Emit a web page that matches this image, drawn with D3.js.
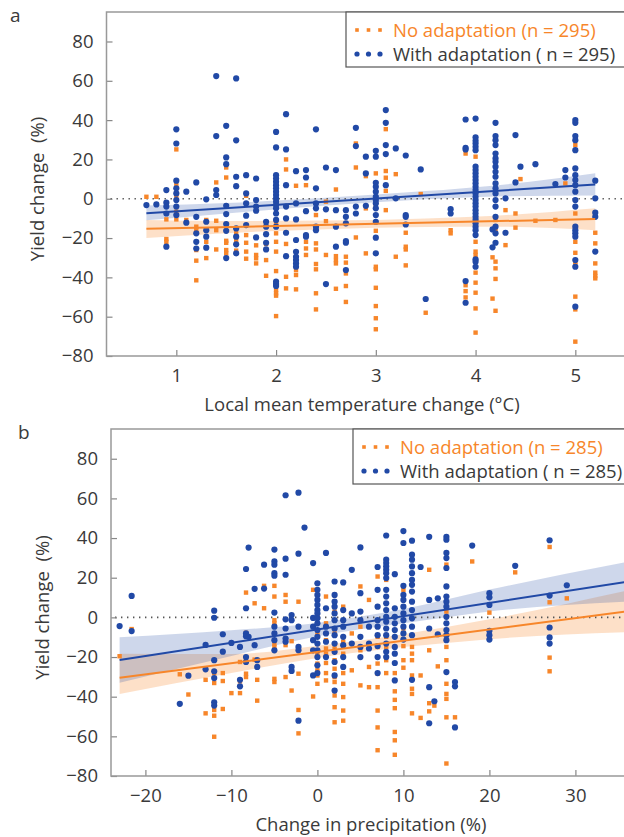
<!DOCTYPE html>
<html lang="en">
  <head>
    <meta charset="UTF-8" />
    <title>Yield change</title>
    <script src="https://d3js.org/d3.v7.min.js"></script>
    <style>
      body { margin: 0; background: #fff; }
      text { font-family: "Open Sans", "Noto Sans", sans-serif; fill: #3a3a3a; }
    </style>
  </head>
  <body>
    <div id="chart"></div>
    <script>
      // ---- panel a : local mean temperature change (°C) ----
      const tempX = [0.7, 0.8, 0.9, 1.0, 1.1, 1.2, 1.3, 1.4, 1.5, 1.6, 1.7, 1.8, 1.9, 2.0, 2.1, 2.2, 2.3, 2.4, 2.5, 2.6, 2.7, 2.8, 2.9, 3.0, 3.1, 3.2, 3.3, 3.45, 3.5, 3.75, 3.9, 4.0, 4.17, 4.2, 4.3, 4.4, 4.45, 4.6, 4.8, 4.9, 5.0, 5.2];
      const tempNoAdapt = [
        [1], [1], [-10.5, -20.5, -21.9], [25.1, 7, 1, -6.6, -10.5], [-10.8],
        [-14.2, -16, -26.1, -31.5, -41.5], [-10.8, -21.9, -30.2], [8.3, -11.2, -16, -25.8],
        [15.9, 10.8, -21.4, -22.4, -26.1, -27.8], [-17.6, -21, -26.4], [1.5, -18.5, -22.4, -26.9, -30.5],
        [-23.7, -28.6, -30.3, -32.9], [-23, -31.2, -39.2],
        [-12.5, -17.6, -21.9, -26.9, -36.8, -46.4, -48.1, -49.3, -59.7], [20, 14.9, -23, -39.7, -45.6],
        [6.6, -36.3, -38.8, -46.1], [6.9, -21.9, -25.3, -28.6], [-8.3, -22.7, -25.8, -33.2, -35.9, -48.1, -56.3],
        [-1.5, -11.4, -28.6], [4.7, -29.2, -31.2, -32.9, -45.8], [-29.5, -32.5, -38, -44.4, -52.5],
        [28.1, 15.9, -19.7], [11.5, -4.9, -27.8], [12.9, -4, -16.3, -34.6, -35.9, -45.3, -54.6, -60.8, -66.4],
        [35.4, 14.1, 10.7, 4, -5.8], [12.5, -29.5], [-17.3, -24.4, -25.8, -33.9], [2.4], [-58], [-16, -17.6],
        [23, -44, -47, -50.2], [21.4, -21.9, -26.9, -28.6, -31.2, -37.6, -42.7, -47.8, -55.8, -68.1],
        [-29.8, -50.8], [-10.8, -16, -32, -35.4, -40.8, -57], [-5.8, -23.6], [-7.5, -14.7], [10], [-11.2],
        [-10.8], [7.8], [27.3, 3.6, -7.5, -21.9, -27.5, -32, -33.7, -49.8, -56.3, -72.7],
        [-17.3, -22.7, -32.9, -37.6, -39.3, -40.5]
      ];
      const tempWithAdapt = [
        [-3.2], [-2.9], [4.4, -2, -4, -7.5, -24.4], [35.3, 28.1, 9.2, 5.3, 2.7, -0.7, -4, -8.3], [3.6, -12.2],
        [8.3, -9.2, -17.6, -21.9, -25.3], [-0.3, -11.7, -16, -19.3, -24.9], [62.4, 31.9, 4.4, 1.9],
        [37.1, 21, 17.6, -3.6, -7.8, -12.9, -16.3, -30.2], [61.2, 29.7, 11.2, 6.4, -15.1, -19.3, -23.2, -27.8],
        [12, 2.7, -2.4, -8.6, -13.4], [10.3, -0.7, -4, -6.1, -19.7], [-11.7, -14.2, -18, -22.4, -25.8],
        [34, 26.1, 12, 10.3, 8.6, 6.9, 5.3, 3.6, 1.9, 0.2, -1.5, -3.2, -4.9, -7.5, -10.8, -14.2, -42.2, -43.4, -44.4],
        [43, 25.1, 6.9, -4, -10, -17.3, -29.2], [14, -2.4, -10.5, -21, -27, -29.5, -31.2, -32.9, -34.6],
        [14.6, 10.8, -6.3, -18.5, -19.3], [35.3, 5.3, -2.4, -4.9, -14.2, -16], [15.9, -5.4, -43.4],
        [14.6, -5.8, -14.2, -24.4], [-5.8, -9.2, -12.5, -21.5, -22.4, -36.3], [36.1, 26.8, -4, -7.5],
        [21.4, 12.9, -3.6], [24.4, 21.4, 8.1, 6.1, 3.6, 1, -0.7, -2.4, -4.9, -8.3, -11.7, -19.8, -27.8],
        [45.1, 38.6, 27.3, 22.7, 6.9], [25.6, 0.2], [22, -8.3, -9.2, -13.1], [14.9], [-51], [-5.3, -7.5],
        [40.3, 25.9, 25.1, -41.9, -52.9],
        [40.8, 31.2, 29.5, 28.1, 26.4, 24.7, 16.3, 14.6, 12.9, 11.2, 9.5, 7.8, 6.1, 4.4, 2.7, 1, -0.7, -2.4, -4, -5.8, -7.5, -9.2, -10.8, -12.5, -14.2, -16, -18.5, -30.8, -32, -34.6],
        [-15.6, -24.7],
        [38.6, 31.9, 29.8, 27.3, 23, 20.5, 18.8, 16.3, 13.7, 11.2, 7.8, 5.3, 2.7, -0.7, -4, -9.2, -14.2, -17.6, -22.4],
        [0.2, -17.3], [32.4, 8.3], [16.3], [17.6], [7.5], [14.6, 10.8],
        [40, 38.6, 31.9, 29.8, 24.7, 15.4, 12, 9.5, 6.9, 3.6, -0.7, -4, -14.2, -16, -17.6, -19.3, -31.2, -34.6, -54.9],
        [9.2, 0.2, -7.1, -9.2, -26.9]
      ];
      const tempFitX = [0.7, 5.2];
      const tempFitNo = [-15.3, -10.3];
      const tempFitWith = [-7.4, 7.3];
      const tempBandX = [0.7, 1.5, 2.5, 3.5, 4.2, 5.2];
      const tempBandNoLo = [-20, -17.5, -15.5, -14.4, -14.2, -16];
      const tempBandNoHi = [-10.8, -11.3, -11.1, -10, -8.6, -4.8];
      const tempBandWithLo = [-11, -7.5, -3.5, -0.3, 1.2, 1.6];
      const tempBandWithHi = [-3.5, -2.2, 0.5, 3.9, 6.8, 13];
      const tempTicks = [1, 2, 3, 4, 5];

      // ---- panel b : change in precipitation (%) ----
      const precX = [-23, -21.6, -16, -15, -13, -12, -11, -10, -9, -8.3, -8, -7.3, -7, -6.2, -5, -3.7, -3, -2.2, -1.5, -0.5, 0, 1, 2, 3, 4, 5, 6, 7, 8, 9, 10, 11, 12, 13, 13.6, 14, 15, 16, 18, 20, 23, 27, 29];
      const precNoAdapt = [
        [-19.6], [-5.9], [-28.7], [-38.9], [-31.5, -48.4], [-28.1, -33.1, -46.7, -49.6, -60.2],
        [-28.1, -32.1, -46.2], [-38.2], [-22.5, -32.3, -38.2], [12.5, -7.8, -21.3, -28.4, -30.1], [],
        [7.1, -21.3], [-31.5, -42], [15.9, 4.6], [15.9, 10.5, -1.4, -3, -8.1, -13.2, -14.9, -31, -32.6],
        [11.3, 7.9, -14, -30.1], [-12, -36.9], [7.9, -28.4, -46.7, -58.5], [], [13.9, -39.9],
        [0.3, -8.1, -13.2, -18.3, -23.3, -26.7, -29.3, -33.5], [10.5, -3, -11.5, -15.7, -18.3, -23, -28.1, -31.8],
        [11.3, 2.9, -8.1, -15.7, -21.6, -25.9, -30.1, -32.6, -39.4, -45.3, -52.9],
        [5.4, -12.3, -18.3, -28.1, -33.5, -40.2, -47, -52.1], [-8.1, -26.7], [15.6, -4.7, -16.6, -34.3],
        [8.8, -25, -35.2], [20.6, -1.4, -9.8, -14.9, -23.3, -28.4, -35.2, -47, -55.5, -67],
        [18.9, -1.4, -9.8, -14.9, -21.6, -28.1], [-28.1, -37.3, -41.6, -45.8, -57.8, -62, -69.3],
        [13.9, -5.6, -14.5, -21.6, -25.4], [-14.9, -18.3, -21.6, -29.3, -36, -38.6, -48.4], [-29.3, -50.7],
        [24, -16.6, -43.3, -47.4], [-44.5], [-24.7], [26.6, 2.9, -14.9, -21.6, -33.5, -38.6, -41.1, -50.4, -73.7],
        [-50.4], [28.2], [2.4], [22.7], [35.5, 7.6, -20.3, -27.2], [9.6]
      ];
      const precWithAdapt = [
        [-4.4], [10.8, -6.9], [-43.6], [-29.4], [-13.9, -26.2], [3.4, -0.2, -21.6, -27.2, -30.6, -42.8, -44.5],
        [-8.5, -17.3], [-12.9], [-14.9, -31.5, -34.8], [24.4, 4.6, -8.1, -9.5, -20, -22.5], [35.2, -9.8],
        [14.4, -14], [-21.6, -25], [26.6, 14.5], [34.2, 28.2, 26.6, 22.3, 21, 2.4, -4.7, -8.1, -11.5, -16.6],
        [61.6, 29.6, 21.5, -1, -5.6, -10.7, -12.3], [1.2, -1.4, -25, -27], [62.9, 32.1, -4.7, -14.9, -16.6, -52.1],
        [45.3], [27.4, -0.3, -4.7, -11.5, -16.6, -29.3],
        [17.2, 13.9, 11.3, 8.8, 6.3, 3.7, 2, -0.5, -3, -6.4, -9.8, -13.2, -16.6, -20, -24.2, -28.1],
        [32.5, 4.6, -4.7, -8.1, -12.3, -20],
        [18.1, 11.3, 7.9, 5.4, 2, -1.4, -5.6, -9, -13.2, -17.4, -22.5, -29.3, -36.9],
        [17.6, 3.7, -1.4, -4.7, -9.8, -14, -20, -25], [24, 2, -13.2], [35.3, 12.2, 2.9, -1.4, -9.8, -14.9, -20],
        [-4.7, -13.2, -15.7], [25.4, 13.9, 5.4, -1.4, -4.7, -9, -14.5, -20, -28.1],
        [41.3, 29.1, 27.4, 25.7, 24, 22.3, 19.8, 13.9, 10.5, 7.1, 3.7, 0.3, -2.2, -5.6, -9, -13.2, -17.4, -20],
        [21.8, 4.6, 0.3, -3, -6.4, -9.8, -14.9, -18.3, -23, -31.8],
        [43.5, 37.5, 15.9, 11.3, 8.8, 5.4, 2, -1.4, -4.7, -8.1, -11.2],
        [38.7, 31.6, 29.1, 25.7, 22.3, 18.9, 16.4, 13, 7.9, 3.7, -0.5, -4.7, -9, -31.5], [25.4],
        [40.6, 8.8, -5.6, -35.2, -53.4], [-42.3], [9.6, -8.5],
        [40.6, 39.2, 32.5, 29.9, 24.9, 15.6, 10.5, 7.9, 5.4, 0.3, -3, -6.4, -9, -11.5, -27.6],
        [-32.6, -34.8, -55.5], [36.2], [12.2, 10.1, 6.3, -6.8, -9, -11.2], [26], [38.9, 11, -5.1, -10.1, -13.2], [16.2]
      ];
      const precFitX = [-23, 36];
      const precFitNo = [-30.5, 3];
      const precFitWith = [-21.5, 18];
      const precBandX = [-23, -10, 0, 5, 10, 20, 36];
      const precBandNoLo = [-38.6, -28, -20.5, -17.5, -15, -11, -7.5];
      const precBandNoHi = [-18.3, -18.5, -14.3, -11.7, -8.5, -1, 13.5];
      const precBandWithLo = [-33, -19.5, -9.5, -6, -3, 3, 8];
      const precBandWithHi = [-10, -6.5, -2.8, 0.4, 4.2, 14, 28];
      const precTicks = [-20, -10, 0, 10, 20, 30];

      const yTicks = [-80, -60, -40, -20, 0, 20, 40, 60, 80];
      const seriesNames = ["No adaptation", "With adaptation"];

      const orange = "#f7862a";
      const blue = "#2149a6";

      const width = 624;
      const height = 837;
      const svg = d3.select("#chart").append("svg")
        .attr("width", width)
        .attr("height", height);

      function drawPanel(opt) {
        const x = d3.scaleLinear().domain(opt.xDomain).range([opt.left, opt.right]);
        const y = d3.scaleLinear().domain([-80, 95]).range([opt.bottom, opt.top]);
        const g = svg.append("g");

        const clipId = "clip-" + opt.letter;
        g.append("clipPath").attr("id", clipId)
          .append("rect")
          .attr("x", opt.left).attr("y", opt.top)
          .attr("width", opt.right - opt.left).attr("height", opt.bottom - opt.top);
        const plot = g.append("g").attr("clip-path", `url(#${clipId})`);

        // confidence bands
        const bands = [
          { lo: opt.noLo, hi: opt.noHi, color: orange, op: 0.26 },
          { lo: opt.withLo, hi: opt.withHi, color: blue, op: 0.22 },
        ];
        bands.forEach((b) => {
          const area = d3.area()
            .x((d, i) => x(opt.bandX[i]))
            .y0((d, i) => y(b.lo[i]))
            .y1((d, i) => y(b.hi[i]))
            .curve(d3.curveMonotoneX);
          plot.append("path")
            .datum(opt.bandX)
            .attr("d", area)
            .attr("fill", b.color)
            .attr("fill-opacity", b.op);
        });

        // zero reference line
        plot.append("line")
          .attr("x1", opt.left + 4).attr("x2", opt.right)
          .attr("y1", y(0)).attr("y2", y(0))
          .attr("stroke", "#555")
          .attr("stroke-width", 1.6)
          .attr("stroke-dasharray", "1.4,4.6");

        // points: no adaptation (squares), with adaptation (circles)
        const noPts = [];
        opt.xs.forEach((xv, i) => opt.no[i].forEach((yv) => noPts.push([xv, yv])));
        const withPts = [];
        opt.xs.forEach((xv, i) => opt.with[i].forEach((yv) => withPts.push([xv, yv])));

        plot.append("g").selectAll("rect")
          .data(noPts)
          .join("rect")
          .attr("x", (d) => x(d[0]) - 2.2)
          .attr("y", (d) => y(d[1]) - 2.2)
          .attr("width", 4.4)
          .attr("height", 4.4)
          .attr("fill", orange);

        plot.append("g").selectAll("circle")
          .data(withPts)
          .join("circle")
          .attr("cx", (d) => x(d[0]))
          .attr("cy", (d) => y(d[1]))
          .attr("r", 3.1)
          .attr("fill", blue);

        // fitted lines
        const line = d3.line().x((d) => x(d[0])).y((d) => y(d[1]));
        plot.append("path")
          .datum(opt.fitX.map((v, i) => [v, opt.fitNo[i]]))
          .attr("d", line)
          .attr("stroke", orange).attr("stroke-width", 2).attr("fill", "none");
        plot.append("path")
          .datum(opt.fitX.map((v, i) => [v, opt.fitWith[i]]))
          .attr("d", line)
          .attr("stroke", blue).attr("stroke-width", 2).attr("fill", "none");

        // axes
        const yAxis = d3.axisLeft(y).tickValues(yTicks).tickSizeInner(-6).tickSizeOuter(0).tickPadding(13)
          .tickFormat((d) => (d < 0 ? "\u2212" + Math.abs(d) : d));
        const xAxis = d3.axisBottom(x).tickValues(opt.xTicks).tickSizeInner(-6).tickSizeOuter(0).tickPadding(13)
          .tickFormat((d) => (d < 0 ? "\u2212" + Math.abs(d) : d));

        const ya = g.append("g").attr("transform", `translate(${opt.left},0)`).call(yAxis);
        const xa = g.append("g").attr("transform", `translate(0,${opt.bottom})`).call(xAxis);
        [ya, xa].forEach((a) => {
          a.select(".domain").remove();
          a.selectAll("line").attr("stroke", "#888").attr("stroke-width", 1.2);
          a.selectAll("text").attr("font-size", 18.5).style("fill", "#3a3a3a");
        });

        // frame
        g.append("rect")
          .attr("x", opt.left).attr("y", opt.top)
          .attr("width", opt.right - opt.left + 10).attr("height", opt.bottom - opt.top)
          .attr("fill", "none")
          .attr("stroke", "#999")
          .attr("stroke-width", 1.5);

        // titles
        g.append("text")
          .attr("transform", `translate(${opt.yTitleX},${(opt.top + opt.bottom) / 2 + 5}) rotate(-90)`)
          .attr("text-anchor", "middle")
          .attr("font-size", 18.5)
          .attr("dy", "0.35em")
          .text("Yield change\u00a0 (%)");
        g.append("text")
          .attr("x", opt.xTitleX).attr("y", opt.bottom + 55)
          .attr("text-anchor", "middle")
          .attr("font-size", 18.5)
          .text(opt.xTitle);
        g.append("text")
          .attr("x", opt.letterX).attr("y", opt.top + 10)
          .attr("font-size", 19)
          .text(opt.letter);

        // legend
        const lg = g.append("g");
        lg.append("rect")
          .attr("x", opt.legX).attr("y", opt.top)
          .attr("width", width - opt.legX + 10).attr("height", 55)
          .attr("fill", "#fff").attr("stroke", "#555").attr("stroke-width", 1.2);
        seriesNames.forEach((name, i) => {
          const cy = opt.top + 18 + i * 24;
          [0, 11.5, 23].forEach((dx) => {
            if (i === 0) {
              lg.append("rect").attr("x", opt.legX + 11 + dx - 1.8).attr("y", cy - 1.8)
                .attr("width", 3.6).attr("height", 3.6).attr("fill", orange);
            } else {
              lg.append("circle").attr("cx", opt.legX + 11 + dx).attr("cy", cy).attr("r", 2.6).attr("fill", blue);
            }
          });
          lg.append("text")
            .attr("x", opt.legX + 47).attr("y", cy + 6.5)
            .attr("font-size", 18.5)
            .style("fill", i === 0 ? orange : "#3a3a3a")
            .text(i === 0 ? `${name} (n = ${opt.n})` : `${name} ( n = ${opt.n})`);
        });
      }

      drawPanel({
        letter: "a", letterX: 10, xDomain: [0.3, 5.5],
        left: 106.5, right: 625.2, top: 12, bottom: 356,
        xs: tempX, no: tempNoAdapt, with: tempWithAdapt,
        fitX: tempFitX, fitNo: tempFitNo, fitWith: tempFitWith,
        bandX: tempBandX, noLo: tempBandNoLo, noHi: tempBandNoHi, withLo: tempBandWithLo, withHi: tempBandWithHi,
        xTicks: tempTicks, xTitle: "Local mean temperature change (\u00b0C)", xTitleX: 362, yTitleX: 38,
        legX: 346, n: 295,
      });

      drawPanel({
        letter: "b", letterX: 18, xDomain: [-24, 36],
        left: 111, right: 627, top: 429, bottom: 776,
        xs: precX, no: precNoAdapt, with: precWithAdapt,
        fitX: precFitX, fitNo: precFitNo, fitWith: precFitWith,
        bandX: precBandX, noLo: precBandNoLo, noHi: precBandNoHi, withLo: precBandWithLo, withHi: precBandWithHi,
        xTicks: precTicks, xTitle: "Change in precipitation (%)", xTitleX: 371, yTitleX: 43,
        legX: 353, n: 285,
      });
    </script>
  </body>
</html>
